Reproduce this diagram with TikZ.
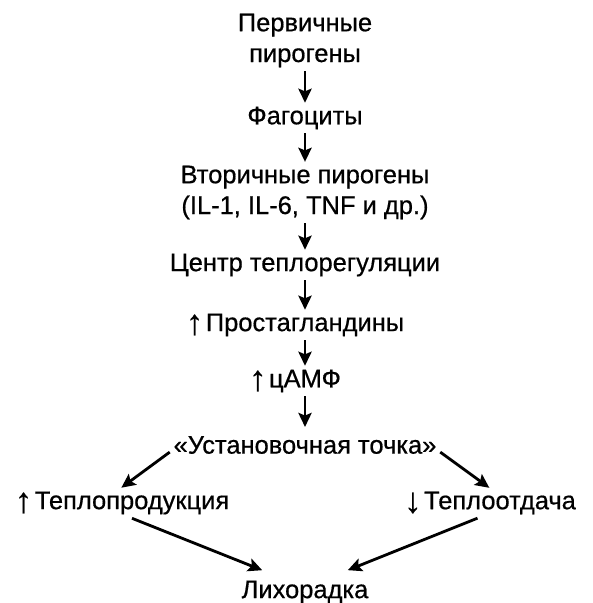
\documentclass[tikz,border=0pt]{standalone}
\usepackage{fontspec}
\setmainfont{Liberation Sans}[FakeBold=0.6]
\usetikzlibrary{arrows.meta,positioning}

\begin{document}
\begin{tikzpicture}[
    stage/.style={align=center, inner sep=2pt, font=\fontsize{14.5}{17.5}\selectfont},
    arr/.style={-{Stealth[length=8pt, width=7.5pt, inset=1.5pt]}, line width=1.6pt},
    sign/.style={inner sep=0pt, label distance=-1pt, font=\fontsize{20}{20}\selectfont}
  ]
  \useasboundingbox (0,0) rectangle (11.86,-12.06);
  % Main chain
  \node[stage] (prim)  at (6.1,-0.81) {Первичные\\пирогены};
  \node[stage] (fag)   at (6.1,-2.36) {Фагоциты};
  \node[stage] (vtor)  at (6.1,-3.85) {Вторичные пирогены\\(IL-1, IL-6, TNF и др.)};
  \node[stage] (centr) at (6.1,-5.30) {Центр теплорегуляции};
  \node[stage, label={[sign]left:↑}] (prost) at (6.1,-6.50) {Простагландины};
  \node[stage, label={[sign]left:↑}] (camp)  at (6.1,-7.62) {цАМФ};
  \node[stage] (ust)   at (6.1,-8.90) {«Установочная точка»};
  % Two branches
  \node[stage, label={[sign]left:↑}] (prod) at (2.64,-10.06) {Теплопродукция};
  \node[stage, label={[sign]left:↓}] (loss) at (10.0,-10.06) {Теплоотдача};
  \node[stage] (fever) at (6.1,-11.84) {Лихорадка};
  % Vertical arrows
  \draw[arr] (prim) -- (fag);
  \draw[arr] (fag) -- (vtor);
  \draw[arr] (vtor) -- (centr);
  \draw[arr] (centr) -- (prost);
  \draw[arr] (prost) -- (camp);
  \draw[arr, shorten >=3pt] (camp) -- (ust);
  % Diagonal arrows
  \draw[arr] (ust.183) -- (prod.125);
  \draw[arr] (ust.-3) -- (loss.125);
  \draw[arr, shorten >=10pt] (prod.south) -- (fever.150);
  \draw[arr, shorten >=10pt] (loss.214) -- (fever.30);
\end{tikzpicture}
\end{document}
